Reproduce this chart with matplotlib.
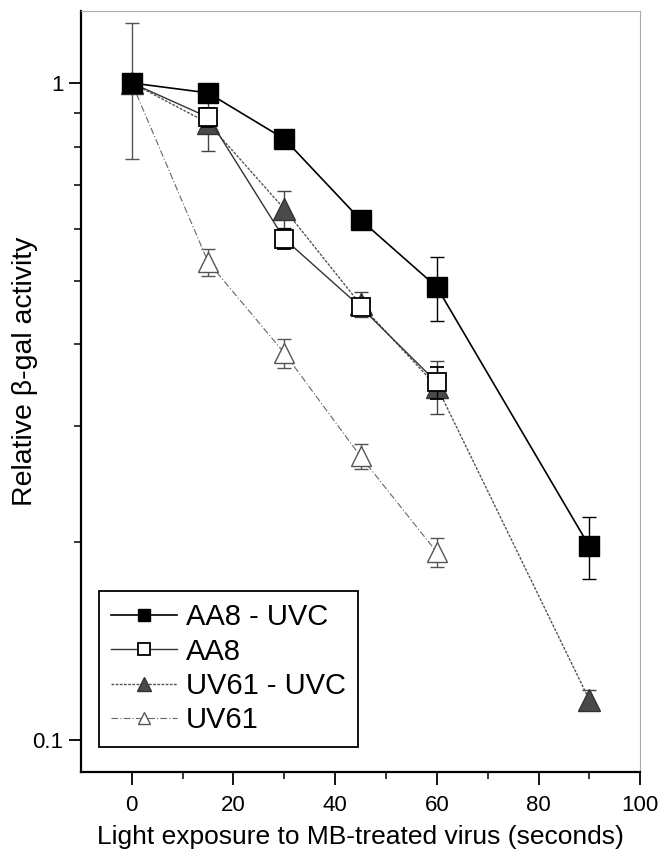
import numpy as np
import matplotlib.pyplot as plt
from matplotlib.lines import Line2D

plt.rcParams['font.family'] = ['Liberation Sans', 'DejaVu Sans']

# exposure time (s) and relative beta-gal activity for each cell line
t_aa8_uvc = [0, 15, 30, 45, 60, 90]
aa8_uvc = [1.0, 0.966, 0.822, 0.619, 0.489, 0.197]
aa8_uvc_err = [0.02, 0.02, 0.01, 0.012, 0.055, 0.021]

t_aa8 = [0, 15, 30, 45, 60]
aa8 = [1.0, 0.887, 0.579, 0.456, 0.350]
aa8_err = [0.02, 0.03, 0.02, 0.01, 0.02]

t_uv61_uvc = [0, 15, 30, 45, 60, 90]
uv61_uvc = [1.0, 0.869, 0.643, 0.460, 0.345, 0.115]
uv61_uvc_err = [0.03, 0.08, 0.042, 0.02, 0.032, 0.004]

t_uv61 = [0, 15, 30, 45, 60]
uv61 = [1.0, 0.534, 0.388, 0.270, 0.193]
uv61_err = [0.235, 0.025, 0.02, 0.012, 0.01]

fig = plt.figure(figsize=(6.58, 8.49), dpi=100)
ax = fig.add_axes([0.123, 0.091, 0.850, 0.896])

eb = dict(capsize=5, elinewidth=1.0, capthick=1.0)

# style for each series: line, marker
st_uv61 = dict(color='#666666', lw=0.8, ls=(0, (6, 2, 1, 2)), marker='^', ms=15,
               mfc='white', mec='#555555', mew=1.0)
st_uv61_uvc = dict(color='#555555', lw=1.0, ls=(0, (2, 1)), marker='^', ms=16,
                   mfc='#4a4a4a', mec='#333333', mew=1.0)
st_aa8 = dict(color='#333333', lw=1.0, ls='-', marker='s', ms=13,
              mfc='white', mec='black', mew=1.3)
st_aa8_uvc = dict(color='black', lw=1.2, ls='-', marker='s', ms=14,
                  mfc='black', mec='black')

ax.errorbar(t_uv61, uv61, yerr=uv61_err, ecolor='#555555', zorder=2, **st_uv61, **eb)
ax.errorbar(t_uv61_uvc, uv61_uvc, yerr=uv61_uvc_err, ecolor='#444444', zorder=3,
            **st_uv61_uvc, **eb)
ax.errorbar(t_aa8, aa8, yerr=aa8_err, ecolor='black', zorder=4, **st_aa8, **eb)
ax.errorbar(t_aa8_uvc, aa8_uvc, yerr=aa8_uvc_err, ecolor='black', zorder=5,
            **st_aa8_uvc, **eb)

ax.set_yscale('log')
ax.set_xlim(-10, 100)
ax.set_ylim(0.0894, 1.287)
ax.set_xticks([0, 20, 40, 60, 80, 100])
ax.set_xticks([10, 30, 50, 70, 90], minor=True)
ax.set_yticks([0.1, 1])
ax.set_yticklabels(['0.1', '1'])
ax.set_yticks([0.2, 0.3, 0.4, 0.5, 0.6, 0.7, 0.8, 0.9], minor=True)
ax.yaxis.set_minor_formatter(plt.NullFormatter())

ax.tick_params(axis='both', which='major', direction='out', length=9, width=1.3, labelsize=16)
ax.tick_params(axis='both', which='minor', direction='out', length=5, width=1.1)
ax.tick_params(axis='x', pad=8)

for s in ['left', 'bottom']:
    ax.spines[s].set_linewidth(1.6)
for s in ['top', 'right']:
    ax.spines[s].set_linewidth(0.8)
    ax.spines[s].set_color('#aaaaaa')

ax.set_xlabel('Light exposure to MB-treated virus (seconds)', fontsize=19, labelpad=6)
ax.set_ylabel('Relative \u03b2-gal activity', fontsize=20.5)
ax.yaxis.label.set_va('center')
ax.yaxis.set_label_coords(-0.100, 0.527)

def handle(st):
    d = dict(st)
    d['ms'] = d['ms'] * 0.62
    return Line2D([], [], **d)

handles = [handle(st_aa8_uvc), handle(st_aa8), handle(st_uv61_uvc), handle(st_uv61)]
labels = ['AA8 - UVC', 'AA8', 'UV61 - UVC', 'UV61']
leg = ax.legend(handles, labels, loc='lower left', bbox_to_anchor=(0.032, 0.033),
                borderaxespad=0, fontsize=21, handlelength=2.26, handletextpad=0.3,
                labelspacing=0.22, borderpad=0.42, fancybox=False, framealpha=1,
                edgecolor='black')
leg.get_frame().set_linewidth(1.3)

fig.savefig('out.png', dpi=100)
